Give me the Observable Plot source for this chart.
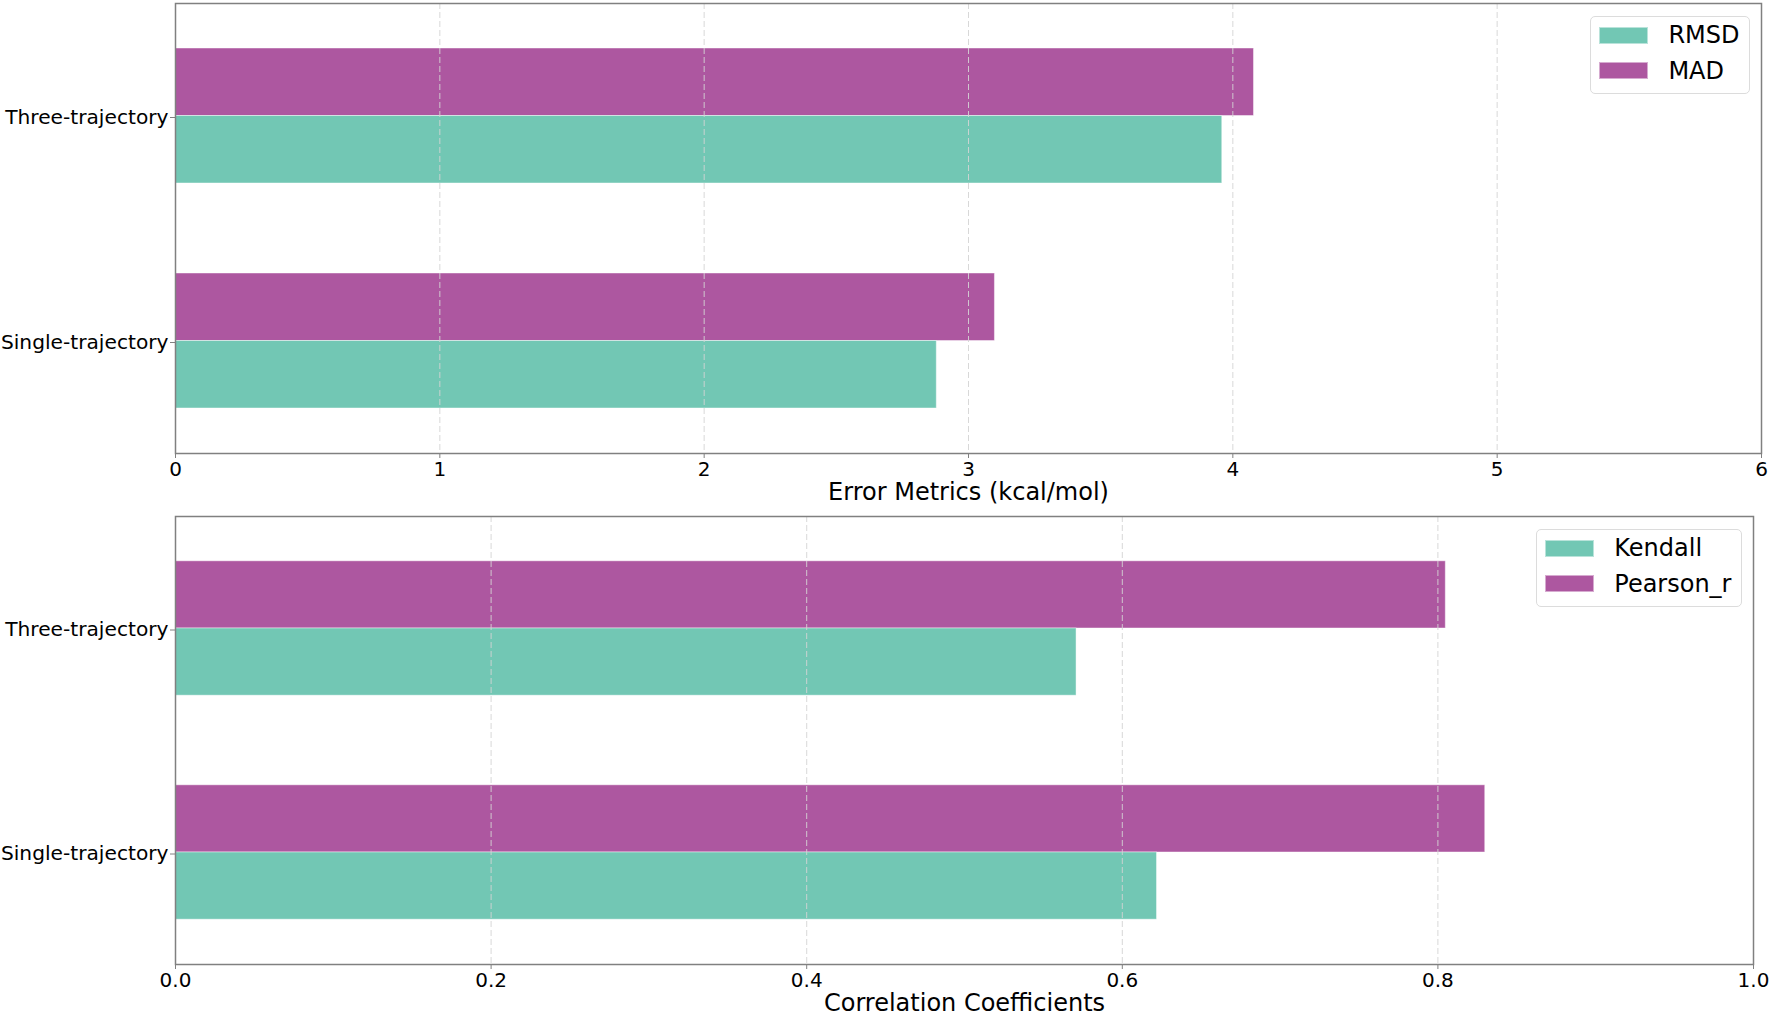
<!DOCTYPE html>
<html>
<head>
<meta charset="utf-8">
<script src="https://cdn.jsdelivr.net/npm/d3@7"></script>
<script src="https://cdn.jsdelivr.net/npm/@observablehq/plot@0.6"></script>
<style>
  html, body { margin: 0; padding: 0; background: #fff; }
  body { width: 1772px; height: 1015px; overflow: hidden; font-family: "DejaVu Sans", sans-serif; }
  .panel { position: relative; width: 1772px; }
  .panel svg { display: block; overflow: visible; }
  .legend {
    position: absolute;
    background: rgba(255,255,255,0.8);
    border: 1px solid #dcdcdc;
    border-radius: 5px;
    padding: 1px 9px 4px 8px;
    font-family: "DejaVu Sans", sans-serif;
    font-size: 24px;
    color: #000;
  }
  .legend .row { display: flex; align-items: center; height: 35.5px; }
  .legend .swatch { width: 49px; height: 17px; margin-right: 20px; box-sizing: border-box; border: 1px solid rgba(255,255,255,0.5); }
</style>
</head>
<body>
<div id="top" class="panel"></div>
<div id="bottom" class="panel"></div>
<script>
// Methods compared
const categories = ["Three-trajectory", "Single-trajectory"];

// Error metrics (kcal/mol)
const errorSeries = ["RMSD", "MAD"];
const rmsd = [3.96, 2.88];
const mad = [4.08, 3.10];
const errorTicks = [0, 1, 2, 3, 4, 5, 6];

// Correlation coefficients
const corrSeries = ["Kendall", "Pearson_r"];
const kendall = [0.571, 0.622];
const pearson = [0.805, 0.830];
const corrTicks = [0, 0.2, 0.4, 0.6, 0.8, 1.0];

const teal = "#72c7b4";
const purple = "#ad57a0";
const axisGray = "#808080";
const font = "DejaVu Sans";

function rows(values) {
  return categories.map((c, i) => ({category: c, value: values[i]}));
}

// One horizontal grouped-bar panel: the second series sits in the upper half
// of each band, the first series in the lower half.
function panel({id, width, height, margin, domain, ticks, tickFormat, label, series, lower, upper}) {
  const bw = (height - margin.top - margin.bottom) / categories.length;
  const barStyle = {stroke: "white", strokeOpacity: 0.45, strokeWidth: 1};
  const chart = Plot.plot({
    width, height,
    marginTop: margin.top, marginRight: margin.right,
    marginBottom: margin.bottom, marginLeft: margin.left,
    style: {fontFamily: font, background: "white", overflow: "visible"},
    x: {domain},
    y: {type: "band", domain: categories, padding: 0},
    marks: [
      Plot.barX(rows(upper), {x: "value", y: "category", fill: purple,
        insetTop: 0.2 * bw, insetBottom: 0.5 * bw, ...barStyle}),
      Plot.barX(rows(lower), {x: "value", y: "category", fill: teal,
        insetTop: 0.5 * bw, insetBottom: 0.2 * bw, ...barStyle}),
      Plot.gridX(ticks, {stroke: "#d4d4d4", strokeOpacity: 0.9, strokeDasharray: "6,3", strokeWidth: 1}),
      Plot.axisX({ticks, tickFormat, tickSize: 5, tickPadding: 3.5, fontSize: 20,
        stroke: axisGray, fill: "black", label: null}),
      Plot.axisY({tickSize: 5, tickPadding: 2, fontSize: 20.2, dy: 1.5,
        stroke: axisGray, fill: "black", label: null}),
      Plot.text([label], {text: d => d, frameAnchor: "bottom", dy: 38.6,
        lineAnchor: "middle", fontSize: 24, fill: "black"}),
      Plot.frame({stroke: axisGray, strokeWidth: 1.5})
    ]
  });
  const host = document.getElementById(id);
  host.appendChild(chart);

  const legend = document.createElement("div");
  legend.className = "legend";
  legend.style.right = (margin.right + 11.5) + "px";
  legend.style.top = (margin.top + 12.5) + "px";
  [[series[0], teal], [series[1], purple]].forEach(([name, color]) => {
    const row = document.createElement("div");
    row.className = "row";
    const sw = document.createElement("div");
    sw.className = "swatch";
    sw.style.background = color;
    const tx = document.createElement("span");
    tx.textContent = name;
    row.appendChild(sw);
    row.appendChild(tx);
    legend.appendChild(row);
  });
  host.appendChild(legend);
}

panel({
  id: "top", width: 1772, height: 510,
  margin: {top: 3, right: 11, bottom: 57, left: 175},
  domain: [0, 6], ticks: errorTicks, tickFormat: d3.format("d"),
  label: "Error Metrics (kcal/mol)",
  series: errorSeries, lower: rmsd, upper: mad
});

panel({
  id: "bottom", width: 1772, height: 505,
  margin: {top: 6, right: 19, bottom: 51, left: 175},
  domain: [0, 1], ticks: corrTicks, tickFormat: d3.format(".1f"),
  label: "Correlation Coefficients",
  series: corrSeries, lower: kendall, upper: pearson
});
</script>
</body>
</html>
